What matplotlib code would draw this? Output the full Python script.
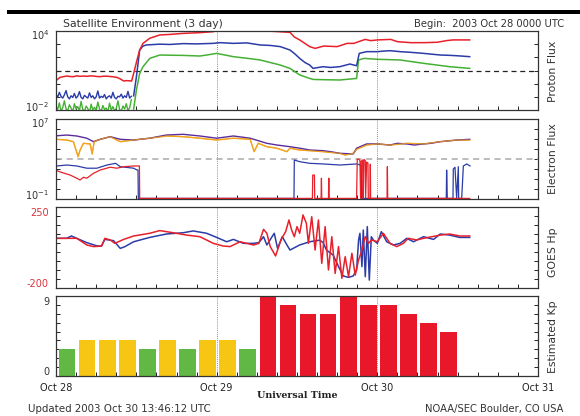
import numpy as np
import matplotlib
matplotlib.use("Agg")
import matplotlib.pyplot as plt
from matplotlib.patches import Rectangle

plt.rcParams['font.family'] = ['DejaVu Sans']
plt.rcParams['mathtext.default'] = 'regular'

# ---------------- DATA (time = hours since 2003 Oct 28 00:00 UTC) ----------------
day_labels = ["Oct 28", "Oct 29", "Oct 30", "Oct 31"]

# Proton flux (pfu)
p_noise_t = np.arange(0, 11.5, 0.25)
p_blue_noise = [0.16, 0.09, 0.22, 0.11, 0.08, 0.14, 0.30, 0.10, 0.07, 0.12, 0.09, 0.18,
                0.08, 0.11, 0.25, 0.09, 0.07, 0.13, 0.10, 0.08, 0.20, 0.09, 0.12, 0.07,
                0.10, 0.28, 0.08, 0.11, 0.09, 0.15, 0.07, 0.10, 0.12, 0.08, 0.22, 0.09,
                0.07, 0.11, 0.10, 0.16, 0.08, 0.12, 0.09, 0.26, 0.08, 0.11]
p_green_noise = [0.020, 0.011, 0.035, 0.008, 0.015, 0.050, 0.012, 0.009, 0.025, 0.014, 0.007, 0.030,
                 0.012, 0.018, 0.009, 0.045, 0.011, 0.008, 0.020, 0.013, 0.006, 0.028, 0.010, 0.016,
                 0.009, 0.040, 0.012, 0.008, 0.022, 0.011, 0.014, 0.007, 0.033, 0.010, 0.018, 0.009,
                 0.013, 0.050, 0.011, 0.008, 0.020, 0.012, 0.030, 0.009, 0.015, 0.060]
p_blue_t = [11.6, 12.0, 12.5, 13.0, 13.5, 15.5, 17.0, 19.0, 21.0, 23.5, 24.5, 26.5, 28.5, 30.5,
            32.0, 33.5, 34.95, 35.7, 36.4, 37.2, 37.9, 38.4, 39.9, 41.0, 42.4, 43.9, 44.9, 45.3,
            46.4, 48.0, 49.0, 49.9, 51.4, 53.0, 54.9, 57.4, 59.0, 60.5, 61.8]
p_blue = [0.12, 3, 360, 720, 870, 1000, 950, 1100, 1050, 1150, 1300, 1150, 1250, 870,
          800, 650, 360, 180, 83, 40, 26, 14.5, 19.5, 17, 19.5, 31, 23, 200,
          270, 270, 300, 320, 270, 240, 200, 150, 140, 126, 112]
p_green_t = [11.6, 12.0, 12.5, 13.0, 14.0, 15.5, 17.0, 19.0, 21.5, 23.5, 24.0, 26.5, 28.5, 30.5,
             33.5, 34.95, 36.4, 37.9, 38.4, 40.0, 42.4, 44.9, 45.2, 46.0, 48.0, 51.4, 54.9,
             58.8, 61.8]
p_green = [0.012, 0.3, 6, 19.5, 83, 150, 145, 140, 126, 180, 200, 112, 85, 63,
           26, 14.5, 4.6, 2.5, 2.1, 2.0, 1.9, 2.5, 63, 83, 71, 63, 35,
           19.5, 14.5]
p_red_t = [0.1, 0.6, 1.1, 1.6, 2.1, 2.6, 3.1, 3.6, 4.1, 4.6, 5.1, 5.6, 6.1, 6.6, 7.1, 7.6, 8.1,
           8.6, 9.1, 9.6, 10.1, 10.6, 11.3, 11.6, 12.1, 12.5, 13.0, 14.0, 15.5, 17.0, 19.0,
           21.5, 23.5, 24.0, 28.0, 34.95, 35.6, 36.4, 37.9, 38.7, 40.0, 42.0, 43.5, 44.5,
           45.2, 46.2, 47.0, 48.0, 50.0, 51.0, 53.0, 55.0, 57.0, 58.3, 59.3, 61.8]
p_red = [1.9, 3.0, 3.4, 3.8, 3.5, 3.4, 3.9, 3.6, 3.8, 3.6, 3.9, 3.8, 3.5, 3.4, 3.7, 3.7, 3.5,
         3.3, 3.0, 2.3, 1.6, 1.7, 1.6, 6, 63, 360, 1150, 2800, 5000, 5500, 6600,
         7500, 8900, 11000, 13000, 7900, 3500, 2100, 650, 480, 720, 650, 1150, 1150,
         1550, 2300, 1850, 2100, 2300, 1550, 1300, 1300, 1400, 1850, 2100, 2100]

# Electron flux
e_purple_t = [0.1, 1.6, 3.1, 4.6, 5.6, 6.6, 8.1, 9.6, 11.6, 14.0, 16.5, 19.0, 21.5, 24.0,
              26.5, 29.0, 31.5, 33.0, 34.95, 36.4, 37.9, 39.9, 41.0, 42.4, 44.4, 44.9, 46.4,
              48.0, 49.9, 51.0, 52.4, 53.5, 54.9, 56.0, 57.4, 59.9, 61.8]
e_purple = [2.1e5, 2.5e5, 2.0e5, 1.2e5, 5.4e4, 9.3e4, 1.7e5, 9.3e4, 7.9e4, 1.2e5, 2.5e5, 2.95e5,
            2.0e5, 1.2e5, 2.0e5, 1.2e5, 3.7e4, 2.5e4, 1.7e4, 1.2e4, 7.9e3, 6.8e3, 5.4e3, 3.7e3,
            3.2e3, 1.2e4, 3.2e4, 3.2e4, 2.5e4, 3.7e4, 3.2e4, 2.5e4, 3.2e4, 3.7e4, 5.4e4,
            7.9e4, 9.3e4]
e_orange_t = [0.1, 1.6, 2.6, 3.3, 3.6, 4.1, 5.1, 5.4, 5.7, 6.6, 8.1, 9.6, 11.6, 14.0, 16.5,
              19.0, 21.5, 24.0, 26.5, 29.0, 29.6, 30.2, 31.5, 33.0, 34.5, 34.95, 36.4, 37.9,
              39.9, 42.4, 43.2, 44.4, 44.9, 46.4, 48.0, 49.9, 52.4, 54.9, 57.4, 59.9, 61.8]
e_orange = [9.3e4, 7.9e4, 5.4e4, 1.7e3, 7.9e3, 3.7e4, 3.2e4, 3.2e3, 5.4e4, 9.3e4, 1.7e5, 5.4e4,
            7.9e4, 1.2e5, 2.0e5, 1.7e5, 1.2e5, 7.9e4, 1.2e5, 9.3e4, 5.4e3, 3.7e4, 1.7e4, 1.2e4,
            5.4e3, 1.2e4, 7.9e3, 6.8e3, 5.4e3, 3.7e3, 2.5e3, 3.7e3, 9.3e3, 2.5e4, 3.2e4, 2.5e4,
            3.7e4, 3.2e4, 5.4e4, 7.9e4, 7.9e4]
e_blue_t = [0.1, 1.6, 3.1, 4.6, 6.1, 7.6, 8.9, 9.6, 11.6, 12.1, 12.25, 12.3, 35.55, 35.6,
            36.4, 37.9, 39.9, 42.4, 44.9, 45.5, 45.6, 45.65, 58.3, 58.35, 58.45, 59.3, 59.35,
            59.6, 59.85, 60.1, 60.15, 60.6, 60.85, 61.35, 61.85]
e_blue = [200, 250, 200, 120, 120, 250, 370, 170, 120, 79, 79, 0.115, 0.115, 790,
          540, 370, 320, 250, 320, 250, 250, 0.115, 0.115, 79, 0.115, 0.115, 100,
          150, 0.115, 170, 0.115, 0.115, 200, 320, 200]
e_red_t = [0.1, 1.1, 2.1, 3.1, 3.6, 4.1, 4.6, 5.6, 6.6, 8.1, 9.1, 10.1, 11.6, 12.3, 12.46, 12.5,
           38.3, 38.35, 38.6, 38.65, 39.6, 39.65, 39.7, 40.7, 40.75, 40.8, 44.9, 45.0, 45.2,
           45.4, 45.5, 45.6, 45.8, 45.85, 45.9, 46.0, 46.2, 46.25, 46.4, 46.6, 46.65, 46.9,
           46.95, 47.0, 49.45, 49.5, 49.55, 61.8]
e_red = [68, 40, 25, 12, 8, 15, 12, 37, 79, 150, 120, 170, 200, 200, 200, 0.115,
         0.115, 25, 25, 0.115, 0.115, 12, 0.115, 0.115, 12, 0.115, 0.115, 930, 1000,
         700, 0.115, 600, 800, 0.115, 0.115, 900, 700, 0.115, 500, 400, 0.115, 0.115,
         300, 0.115, 0.115, 170, 0.115, 0.115]

# GOES Hp (nT)
hp_blue_t = [0.1, 1.6, 2.3, 3.1, 4.6, 6.2, 6.8, 7.3, 8.6, 9.6, 10.3, 11.6, 14.0, 16.5, 19.0,
             20.5, 22.5, 24.0, 25.5, 26.5, 28.0, 29.5, 30.3, 31.0, 31.5, 32.6, 33.1, 33.8,
             34.5, 34.95, 36.4, 37.9, 39.4, 39.9, 40.4, 41.4, 42.2, 42.9, 43.7, 44.4, 44.9,
             45.2, 45.4, 45.7, 45.9, 46.2, 46.5, 46.8, 47.1, 47.4, 48.0, 48.6, 49.4, 50.4,
             51.4, 52.4, 53.4, 54.9, 56.4, 57.4, 58.8, 60.3, 61.8]
hp_blue = [76, 76, 89, 76, 52, 33, 33, 70, 63, 20, 30, 57, 81, 100, 107,
           117, 104, 81, 57, 70, 48, 48, 52, 85, 39, 104, 20, 85,
           39, 11, 39, 57, 66, 52, 11, -17, -81, -133, -141, -133, -100,
           67, 104, -81, 122, -137, 141, -156, 85, 67, 48, 113, 57, 39,
           48, 76, 57, 85, 70, 100, 94, 81, 81]
hp_red_t = [0.1, 3.1, 4.6, 5.6, 6.8, 7.3, 8.1, 8.8, 10.1, 11.6, 14.0, 15.5, 17.5, 19.5, 21.5,
            23.5, 25.0, 26.0, 27.5, 29.5, 30.3, 31.0, 31.5, 32.0, 32.8, 33.6, 34.3, 34.8,
            35.2, 35.6, 36.0, 36.4, 36.9, 37.4, 37.7, 38.2, 38.7, 39.2, 39.7, 40.2, 40.7,
            41.2, 41.7, 42.2, 42.7, 43.2, 43.7, 44.2, 44.7, 45.2, 45.7, 46.2, 46.7, 47.1,
            48.0, 48.9, 49.9, 50.9, 51.9, 52.6, 53.9, 54.9, 57.4, 58.8, 60.3, 61.8]
hp_red = [76, 76, 39, 30, 33, 76, 67, 48, 70, 89, 104, 119, 107, 94, 85,
          48, 33, 30, 57, 39, 48, 126, 104, 30, -22, 67, 113, 178,
          122, 85, 141, 104, 206, 159, 48, 196, 11, 178, -63, 141, -100,
          85, -119, 30, -146, -26, -137, -7, -128, -44, 11, 85, 48, 67,
          57, 104, 48, 30, 48, 76, 67, 76, 94, 100, 89, 89]

# Estimated Kp (3-hour intervals starting Oct 28 00 UT)
kp_values = [3, 4, 4, 4, 3, 4, 3, 4,
             4, 3, 9, 8, 7, 7, 9, 8,
             8, 7, 6, 5]

# Y-axis end labels (text, pixel y of label centre) for each panel
yend_labels = [
    [("$10^{4}$", 35, '#333333'), ("$10^{-2}$", 107, '#333333')],
    [("$10^{7}$", 123, '#333333'), ("$10^{-1}$", 195, '#333333')],
    [("250", 213, '#d8333f'), ("-200", 284, '#d8333f')],
    [("9", 302, '#333333'), ("0", 372, '#333333')],
]

# ---------------- STYLE ----------------
RED = '#e8202a'
BLUE = '#2b3ca8'
GREEN = '#46b035'
PURPLE = '#5b2c9c'
ORANGE = '#f2a31c'
KP_GREEN = '#62b845'
KP_YELLOW = '#f7c614'
KP_RED = '#e8182a'

W, H = 580, 416
fig = plt.figure(figsize=(W / 100, H / 100), dpi=100)
fig.patch.set_facecolor('white')


def ax_px(left, top, right, bottom):
    return fig.add_axes([left / W, 1 - bottom / H, (right - left) / W, (bottom - top) / H])


L, R = 56, 538
ax1 = ax_px(L, 31, R, 110)
ax2 = ax_px(L, 119, R, 199)
ax3 = ax_px(L, 207, R, 288)
ax4 = ax_px(L, 296, R, 376)
axes = [ax1, ax2, ax3, ax4]

for ax in axes:
    ax.set_xlim(0, 72)
    ax.set_xticks(np.arange(0, 73, 3))
    ax.tick_params(axis='both', which='both', direction='in', length=3, width=0.7,
                   labelsize=6.5, right=True, top=False, pad=4, colors='#222222',
                   labelleft=False)
    for s in ax.spines.values():
        s.set_linewidth(0.9)
        s.set_color('#333333')
    for d in (24, 48):
        ax.axvline(d, color='#666666', lw=0.6, ls=(0, (1, 1.5)), zorder=1)
    ax.set_xticklabels([])

# Panel 1: protons
ax1.set_yscale('log')
ax1.set_ylim(1e-2, 1e4)
ax1.set_yticks([1e-2, 1e-1, 1e0, 1e1, 1e2, 1e3, 1e4])
ax1.minorticks_off()
ax1.axhline(10, color='#222222', lw=0.9, ls=(0, (4, 3)), zorder=2)
ax1.plot(p_noise_t, p_green_noise, color=GREEN, lw=1.0)
ax1.plot(p_green_t, p_green, color=GREEN, lw=1.1)
ax1.plot(p_noise_t, p_blue_noise, color=BLUE, lw=1.0)
ax1.plot(p_blue_t, p_blue, color=BLUE, lw=1.1)
ax1.plot(p_red_t, p_red, color=RED, lw=1.1)

# Panel 2: electrons
ax2.set_yscale('log')
ax2.set_ylim(1e-1, 1e7)
ax2.set_yticks([10.0 ** k for k in range(-1, 8)])
ax2.minorticks_off()
ax2.axhline(1e3, color='#aaaaaa', lw=1.1, ls=(0, (4, 3)), zorder=2)
ax2.plot(e_blue_t, e_blue, color=BLUE, lw=0.9)
ax2.plot(e_red_t, e_red, color=RED, lw=0.9)
ax2.plot(e_orange_t, e_orange, color=ORANGE, lw=1.0)
ax2.plot(e_purple_t, e_purple, color=PURPLE, lw=1.0)
ax2.plot(e_orange_t, e_orange, color=ORANGE, lw=0.8, alpha=0.8)

# Panel 3: Hp
ax3.set_ylim(-200, 250)
ax3.set_yticks(np.arange(-200, 251, 50))
ax3.plot(hp_blue_t, hp_blue, color=BLUE, lw=1.1)
ax3.plot(hp_red_t, hp_red, color=RED, lw=1.1)

# Panel 4: Kp bars
kp_start = np.arange(len(kp_values)) * 3
kp_colors = [KP_GREEN if v < 4 else (KP_YELLOW if v < 5 else KP_RED) for v in kp_values]
ax4.bar(kp_start + 1.65, kp_values, width=2.5, color=kp_colors, zorder=2)
ax4.set_ylim(0, 9)
ax4.set_yticks(np.arange(0, 10, 1))
ax4.set_xticks([0, 24, 48, 72])
ax4.set_xticks(np.arange(0, 73, 3), minor=True)
ax4.set_xticklabels(day_labels)
ax4.tick_params(axis='x', which='major', labelsize=7, pad=5)
ax4.tick_params(axis='x', which='minor', direction='in', length=3, width=0.7, top=False)

# Y end labels placed at their pixel positions
for labels in yend_labels:
    for txt, yc, col in labels:
        fig.text(49 / W, 1 - yc / H, txt, ha='right', va='center', fontsize=7, color=col)

# Right-side labels
right_labels = [("Proton Flux", 71), ("Electron Flux", 159), ("GOES Hp", 252), ("Estimated Kp", 337)]
for txt, yc in right_labels:
    fig.text(553 / W, 1 - yc / H, txt, rotation=90, ha='center', va='center',
             fontsize=7.8, color='#333333')

# Header / footer
fig.patches.append(Rectangle((7 / W, 1 - 14 / H), 1 - 7 / W, 4 / H, transform=fig.transFigure,
                             facecolor='black', edgecolor='none'))
fig.text(63 / W, 1 - 24 / H, "Satellite Environment (3 day)", fontsize=7.8, va='center',
         ha='left', color='#333333')
fig.text(564 / W, 1 - 24 / H, "Begin:  2003 Oct 28 0000 UTC", fontsize=7.2, va='center',
         ha='right', color='#333333')
fig.text(297 / W, 1 - 396 / H, "Universal Time", fontsize=6.8, va='center', ha='center',
         family='DejaVu Serif', weight='bold', color='#222222')
fig.text(28 / W, 1 - 409 / H, "Updated 2003 Oct 30 13:46:12 UTC", fontsize=7.4, va='center',
         ha='left', color='#333333')
fig.text(563 / W, 1 - 409 / H, "NOAA/SEC Boulder, CO USA", fontsize=7.2, va='center',
         ha='right', color='#333333')

fig.savefig('out.png', dpi=100)
